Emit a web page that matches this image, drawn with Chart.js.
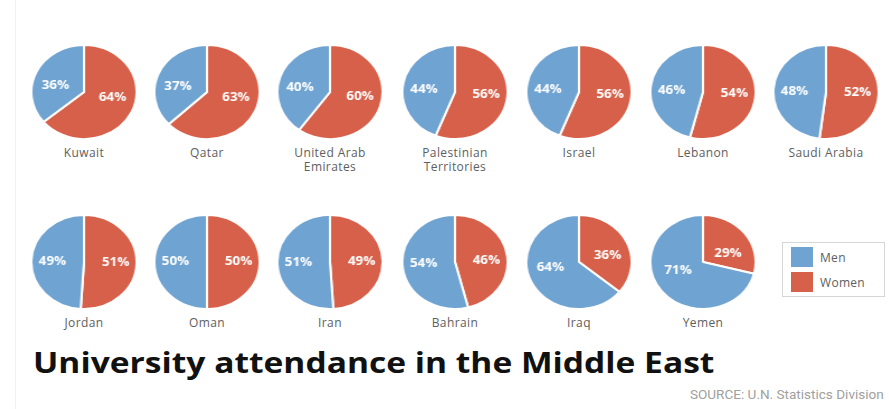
<!DOCTYPE html>
<html>
<head>
<meta charset="utf-8">
<script src="https://cdn.jsdelivr.net/npm/chart.js@4"></script>
<style>
  body {
    margin: 0;
    width: 889px;
    height: 409px;
    background: #ffffff;
    position: relative;
    overflow: hidden;
    font-family: "Open Sans", sans-serif;
  }
  .frame {
    position: absolute;
    left: 15px;
    top: 0;
    width: 874px;
    height: 409px;
    border-left: 1px solid #f1f1f1;
  }
  .pie {
    position: absolute;
    width: 96px;
    height: 96px;
    transform: scaleX(1.12);
  }
  .name {
    position: absolute;
    width: 130px;
    text-align: center;
    font-size: 12px;
    line-height: 14px;
    color: #5e5e5e;
    letter-spacing: 0.4px;
    white-space: pre-line;
  }
  .legend {
    position: absolute;
    left: 782px;
    top: 242px;
    width: 101px;
    height: 53px;
    border: 1px solid #d6d6d6;
  }
  .legend .sw {
    position: absolute;
    left: 8px;
    width: 22px;
    height: 20px;
  }
  .legend .lt {
    position: absolute;
    left: 37px;
    font-size: 12px;
    color: #5e5e5e;
    letter-spacing: 0.3px;
  }
  .title {
    position: absolute;
    left: 33px;
    top: 343px;
    font-family: "Open Sans", sans-serif;
    font-weight: 700;
    font-size: 28px;
    line-height: 38px;
    color: #111;
    white-space: nowrap;
    transform-origin: 0 0;
  }
  .source {
    position: absolute;
    left: 690px;
    top: 388px;
    font-family: Roboto, sans-serif;
    font-size: 12px;
    color: #a0a0a0;
    white-space: nowrap;
    transform-origin: 0 0;
  }
</style>
</head>
<body>
<div class="frame"></div>
<div id="charts"></div>
<div class="legend">
  <div class="sw" style="top:4px;background:#6fa3d1"></div>
  <div class="lt" style="top:6px">Men</div>
  <div class="sw" style="top:29px;background:#d6604a"></div>
  <div class="lt" style="top:31px">Women</div>
</div>
<div class="title" id="title">University attendance in the Middle East</div>
<div class="source" id="source">SOURCE: U.N. Statistics Division</div>

<script>
// Share of university students by sex
const countries = [
  "Kuwait",
  "Qatar",
  "United Arab\nEmirates",
  "Palestinian\nTerritories",
  "Israel",
  "Lebanon",
  "Saudi Arabia",
  "Jordan",
  "Oman",
  "Iran",
  "Bahrain",
  "Iraq",
  "Yemen",
];
const men = [36, 37, 40, 44, 44, 46, 48, 49, 50, 51, 54, 64, 71];
const women = [64, 63, 60, 56, 56, 54, 52, 51, 50, 49, 46, 36, 29];

const menColor = "#6fa3d1";
const womenColor = "#d6604a";

// grid: 7 per row
const colX = [84, 207, 330, 455, 579, 703, 826];
const rowY = [92, 262];

// stretch a line of text to a given width
function fitWidth(id, width) {
  const el = document.getElementById(id);
  el.style.transform = "scaleX(" + width / el.offsetWidth + ")";
}
fitWidth("title", 682);
fitWidth("source", 194);

// white percentage text inside each slice
const sliceLabels = {
  id: "sliceLabels",
  afterDatasetsDraw(chart) {
    const ctx = chart.ctx;
    const ds = chart.data.datasets[0];
    const meta = chart.getDatasetMeta(0);
    ctx.save();
    ctx.fillStyle = "#ffffff";
    ctx.font = "bold 12px 'Open Sans', sans-serif";
    ctx.textAlign = "center";
    ctx.textBaseline = "middle";
    meta.data.forEach((arc, i) => {
      const p = arc.getProps(["x", "y", "startAngle", "endAngle", "outerRadius"], true);
      const mid = (p.startAngle + p.endAngle) / 2;
      const r = p.outerRadius * 0.6;
      const x = p.x + Math.cos(mid) * r;
      const y = p.y + Math.sin(mid) * r * 0.5;
      ctx.fillText(ds.data[i] + "%", x, y);
    });
    ctx.restore();
  },
};

const holder = document.getElementById("charts");

countries.forEach((name, i) => {
  const cx = colX[i % 7];
  const cy = rowY[Math.floor(i / 7)];

  const box = document.createElement("div");
  box.className = "pie";
  box.style.left = cx - 48 + "px";
  box.style.top = cy - 48 + "px";
  const canvas = document.createElement("canvas");
  box.appendChild(canvas);
  holder.appendChild(box);

  const label = document.createElement("div");
  label.className = "name";
  label.style.left = cx - 65 + "px";
  label.style.top = cy + 54 + "px";
  label.textContent = name;
  holder.appendChild(label);

  new Chart(canvas.getContext("2d"), {
    type: "pie",
    data: {
      labels: ["Women", "Men"],
      datasets: [
        {
          data: [women[i], men[i]],
          backgroundColor: [womenColor, menColor],
          borderColor: "#ffffff",
          borderWidth: 2,
        },
      ],
    },
    options: {
      responsive: true,
      maintainAspectRatio: false,
      animation: false,
      layout: { padding: 0 },
      plugins: {
        legend: { display: false },
        tooltip: { enabled: false },
      },
    },
    plugins: [sliceLabels],
  });
});
</script>
</body>
</html>
